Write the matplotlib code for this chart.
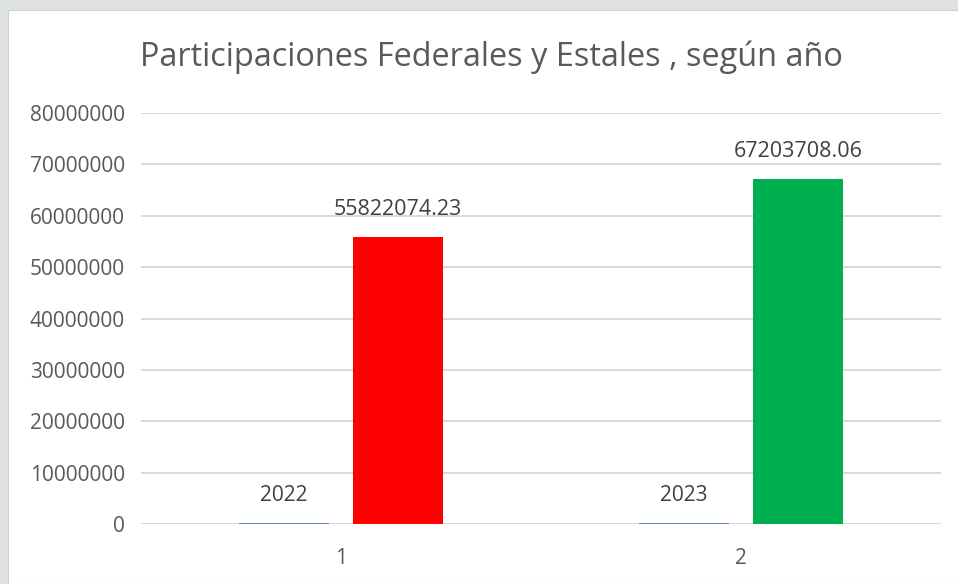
import matplotlib
matplotlib.use("Agg")
import matplotlib.pyplot as plt
from matplotlib.patches import Rectangle
import numpy as np

categories = ["1", "2"]
years = [2022, 2023]
year_labels = ["2022", "2023"]
values = [55822074.23, 67203708.06]
value_labels = ["55822074.23", "67203708.06"]
value_colors = ["#FF0000", "#00B050"]
yticks = [0, 10000000, 20000000, 30000000, 40000000, 50000000, 60000000, 70000000, 80000000]

plt.rcParams['font.family'] = ['Open Sans', 'DejaVu Sans']
W, H = 958, 584
fig = plt.figure(figsize=(W/100, H/100), dpi=100, facecolor="#dfe3df")
# white chart area
bg = Rectangle((8/W, 0), 1, 1 - 10/H, transform=fig.transFigure,
               facecolor="white", edgecolor="#d0d0d0", lw=0.8, zorder=-5)
fig.patches.append(bg)

ax = fig.add_axes([141/W, (H-524)/H, (941-141)/W, (524-113)/H])
ax.set_zorder(2)
ax.set_facecolor("none")
x = np.arange(1, len(categories) + 1)
off = 0.1425
bw = 0.225
ax.axhline(0, color="#d9d9d9", lw=1.4, zorder=1)
# series 1: the year values (tiny on this scale)
ax.bar(x - off, years, width=bw, color="#4472C4", edgecolor="#4472C4", lw=1.2, zorder=3)
ax.bar(x + off, values, width=bw, color=value_colors, zorder=3)

for xi, lab in zip(x, year_labels):
    ax.text(xi - off, 5600000, lab, ha="center", va="center", fontsize=15, color="#404040")
for xi, v, lab in zip(x, values, value_labels):
    ax.text(xi + off, v + 5300000, lab, ha="center", va="center", fontsize=15.5, color="#404040")

ax.set_xlim(0.5, 2.5)
ax.set_ylim(0, 80000000)
ax.set_yticks(yticks)
ax.set_yticklabels([str(t) for t in yticks])
ax.set_xticks(x)
ax.set_xticklabels(categories)
ax.grid(axis="y", color="#d9d9d9", lw=1.4, zorder=0)
ax.set_axisbelow(True)
ax.tick_params(axis="both", length=0, labelsize=15, labelcolor="#595959")
ax.tick_params(axis="y", pad=11.5)
ax.tick_params(axis="x", pad=17)
for s in ax.spines.values():
    s.set_visible(False)

fig.text(491/W, 1 - 57/H, "Participaciones Federales y Estales , según año",
         ha="center", va="center", fontsize=23.4, color="#595959")

fig.savefig("out.png", dpi=100, facecolor=fig.get_facecolor())
